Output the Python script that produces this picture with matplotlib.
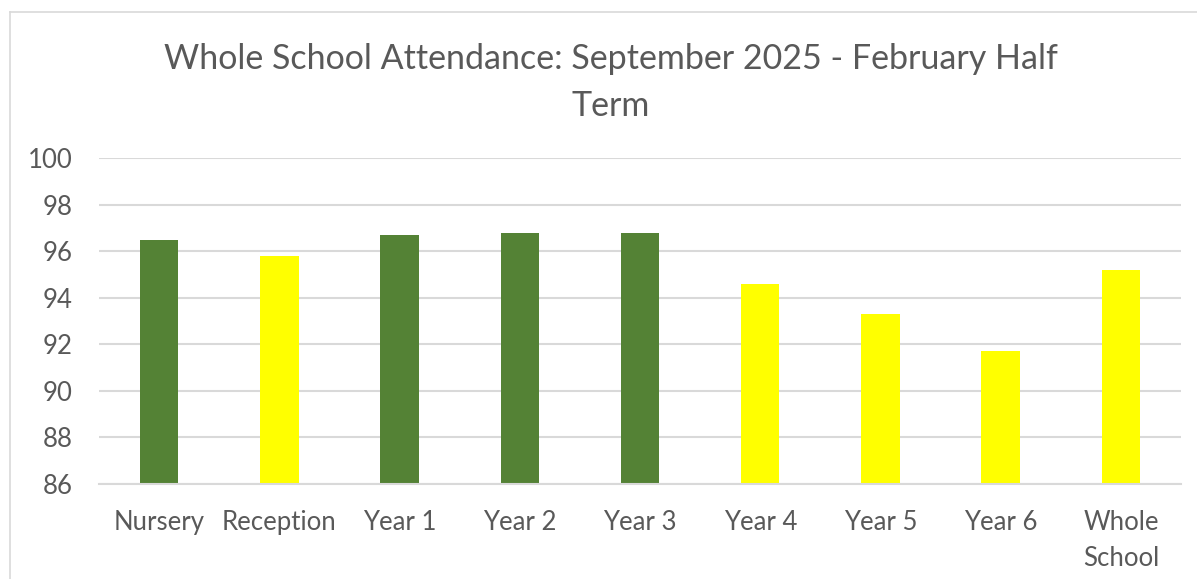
import matplotlib
matplotlib.use("Agg")
import matplotlib.pyplot as plt
from matplotlib.lines import Line2D

categories = ["Nursery", "Reception", "Year 1", "Year 2", "Year 3", "Year 4", "Year 5", "Year 6", "Whole\nSchool"]
attendance = [96.5, 95.8, 96.7, 96.8, 96.8, 94.6, 93.3, 91.7, 95.2]
bar_colors = ["#548235", "#FFFF00", "#548235", "#548235", "#548235", "#FFFF00", "#FFFF00", "#FFFF00", "#FFFF00"]
y_ticks = [86, 88, 90, 92, 94, 96, 98, 100]
title = "Whole School Attendance: September 2025 - February Half\nTerm"

plt.rcParams['font.family'] = ['Lato', 'DejaVu Sans']
text_color = "#595959"
grid_color = "#d9d9d9"

fig = plt.figure(figsize=(11.97, 5.79), dpi=100)
ax = fig.add_axes([99/1197, 1 - 484/579, (1181 - 99)/1197, (484 - 158.3)/579])

x = list(range(len(categories)))
ax.bar(x, attendance, width=0.32, color=bar_colors, zorder=3, bottom=0)
ax.set_ylim(86, 100)
ax.set_xlim(-0.5, len(categories) - 0.5)
ax.set_yticks(y_ticks)
ax.set_xticks(x)
ax.set_xticklabels(categories, linespacing=1.55)
ax.tick_params(axis='both', length=0, labelsize=18.5, colors=text_color)
ax.tick_params(axis='y', pad=19)
ax.tick_params(axis='x', pad=19)
ax.yaxis.grid(True, color=grid_color, linewidth=1.5, zorder=0)
for s in ["top", "right", "left"]:
    ax.spines[s].set_visible(False)
ax.spines["bottom"].set_color(grid_color)
ax.spines["bottom"].set_linewidth(1.5)
ax.spines["bottom"].set_zorder(4)

fig.text(611/1197, 1 - 82.5/579, title, ha="center", va="center", fontsize=24.5,
         color=text_color, linespacing=1.55)

# chart border
fig.add_artist(Line2D([10/1197, 10/1197], [0, 1 - 12/579], color=grid_color, linewidth=1.2))
fig.add_artist(Line2D([10/1197, 1], [1 - 12/579, 1 - 12/579], color=grid_color, linewidth=1.2))

fig.savefig("out.png", dpi=100)
